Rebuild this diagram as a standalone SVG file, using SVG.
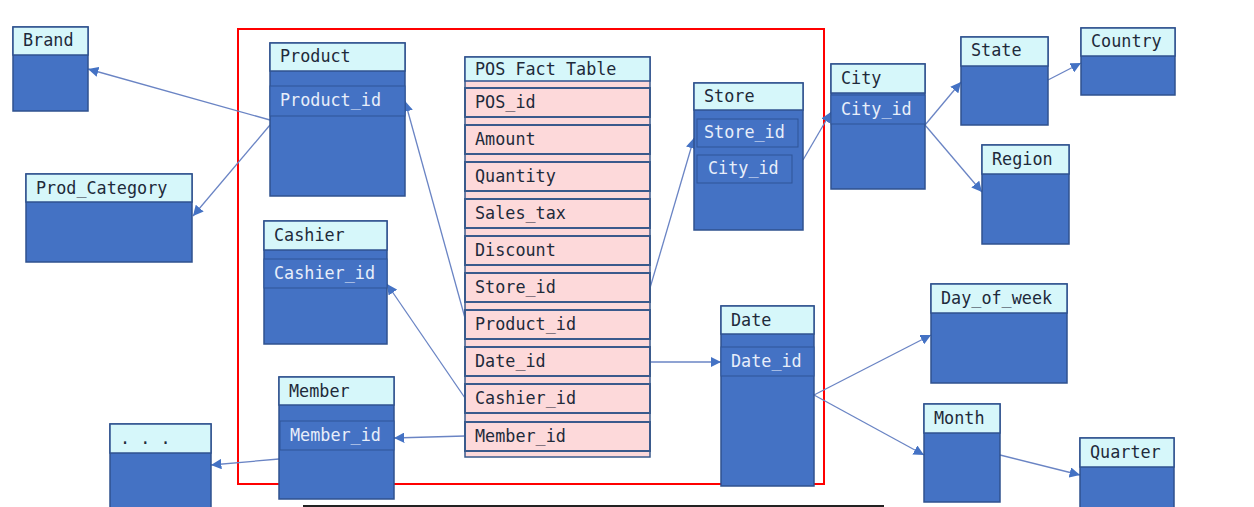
<svg xmlns="http://www.w3.org/2000/svg" width="1254" height="507" viewBox="0 0 1254 507">
<style>
.b{fill:#4472c4;stroke:#2f528f;stroke-width:1.5}
.h{fill:#d6f7fa;stroke:#2f528f;stroke-width:1.5}
.r{fill:#4472c4;stroke:#2f5597;stroke-width:1}
.p{fill:#fdd9da;stroke:#3a5a8c;stroke-width:1.5}
.pb{fill:#fdd9da;stroke:#3a5a8c;stroke-width:2}
text{font-family:"DejaVu Sans Mono","Liberation Mono",monospace;font-size:16.8px}
.t{fill:#1e2a3a}.w{fill:#e8eefa}
.c{stroke:#6a84c4;stroke-width:1.3;fill:none;marker-end:url(#a)}
</style>
<defs><marker id="a" viewBox="0 0 10 10" refX="10" refY="5" markerWidth="8" markerHeight="8" orient="auto"><path d="M0,0L10,5L0,10z" fill="#4472c4"/></marker></defs>
<rect width="1254" height="507" fill="#fff"/>
<rect x="238" y="29" width="586" height="455" fill="none" stroke="#ff0000" stroke-width="2"/>
<line x1="303" y1="506" x2="884" y2="506" stroke="#222" stroke-width="2"/>
<g id="connectors">
<path class="c" d="M270,120L88,69"/>
<path class="c" d="M270,125L193,216"/>
<path class="c" d="M465,318L405,101"/>
<path class="c" d="M465,398L387,284"/>
<path class="c" d="M465,436L394,438"/>
<path class="c" d="M279,459L211,465"/>
<path class="c" d="M650,288L694,138"/>
<path class="c" d="M803,160L831,112"/>
<path class="c" d="M925,125L961,82"/>
<path class="c" d="M925,125L982,192"/>
<path class="c" d="M1048,80L1081,63"/>
<path class="c" d="M650,362L721,362"/>
<path class="c" d="M814,395L931,335"/>
<path class="c" d="M814,395L924,455"/>
<path class="c" d="M1000,455L1080,475"/>
</g>
<g id="brand"><rect class="b" x="13" y="27" width="75" height="84"/><rect class="h" x="13" y="27" width="75" height="28"/><text class="t" x="23" y="46">Brand</text></g>
<g id="prodcat"><rect class="b" x="26" y="174" width="166" height="88"/><rect class="h" x="26" y="174" width="166" height="28"/><text class="t" x="36" y="194">Prod_Category</text></g>
<g id="product"><rect class="b" x="270" y="43" width="135" height="153"/><rect class="h" x="270" y="43" width="135" height="28"/><text class="t" x="280" y="62">Product</text><rect class="r" x="270" y="86" width="135" height="30"/><text class="w" x="280" y="106">Product_id</text></g>
<g id="cashier"><rect class="b" x="264" y="221" width="123" height="123"/><rect class="h" x="264" y="221" width="123" height="29"/><text class="t" x="274" y="241">Cashier</text><rect class="r" x="264" y="259" width="123" height="29"/><text class="w" x="274" y="279">Cashier_id</text></g>
<g id="member"><rect class="b" x="279" y="377" width="115" height="122"/><rect class="h" x="279" y="377" width="115" height="28"/><text class="t" x="289" y="397">Member</text><rect class="r" x="280" y="421" width="114" height="29"/><text class="w" x="290" y="441">Member_id</text></g>
<g id="etc"><rect class="b" x="110" y="424" width="101" height="85"/><rect class="h" x="110" y="424" width="101" height="29"/><text class="t" x="120" y="444">. . .</text></g>
<g id="pos"><rect class="p" x="465" y="57" width="185" height="400"/><rect class="h" x="465" y="57" width="185" height="24"/><text class="t" x="475" y="75">POS Fact Table</text>
<rect class="pb" x="465" y="88" width="185" height="29"/><text class="t" x="475" y="108">POS_id</text>
<rect class="pb" x="465" y="125" width="185" height="29"/><text class="t" x="475" y="145">Amount</text>
<rect class="pb" x="465" y="162" width="185" height="29"/><text class="t" x="475" y="182">Quantity</text>
<rect class="pb" x="465" y="199" width="185" height="29"/><text class="t" x="475" y="219">Sales_tax</text>
<rect class="pb" x="465" y="236" width="185" height="29"/><text class="t" x="475" y="256">Discount</text>
<rect class="pb" x="465" y="273" width="185" height="29"/><text class="t" x="475" y="293">Store_id</text>
<rect class="pb" x="465" y="310" width="185" height="29"/><text class="t" x="475" y="330">Product_id</text>
<rect class="pb" x="465" y="347" width="185" height="29"/><text class="t" x="475" y="367">Date_id</text>
<rect class="pb" x="465" y="384" width="185" height="29"/><text class="t" x="475" y="404">Cashier_id</text>
<rect class="pb" x="465" y="422" width="185" height="29"/><text class="t" x="475" y="442">Member_id</text></g>
<g id="store"><rect class="b" x="694" y="83" width="109" height="147"/><rect class="h" x="694" y="83" width="109" height="27"/><text class="t" x="704" y="102">Store</text><rect class="r" x="697" y="119" width="101" height="28"/><text class="w" x="704" y="138">Store_id</text><rect class="r" x="697" y="155" width="95" height="28"/><text class="w" x="708" y="174">City_id</text></g>
<g id="city"><rect class="b" x="831" y="64" width="94" height="125"/><rect class="h" x="831" y="64" width="94" height="29"/><text class="t" x="841" y="84">City</text><rect class="r" x="831" y="95" width="94" height="29"/><text class="w" x="841" y="115">City_id</text></g>
<g id="state"><rect class="b" x="961" y="37" width="87" height="88"/><rect class="h" x="961" y="37" width="87" height="29"/><text class="t" x="971" y="56">State</text></g>
<g id="country"><rect class="b" x="1081" y="28" width="94" height="67"/><rect class="h" x="1081" y="28" width="94" height="28"/><text class="t" x="1091" y="47">Country</text></g>
<g id="region"><rect class="b" x="982" y="145" width="87" height="99"/><rect class="h" x="982" y="145" width="87" height="29"/><text class="t" x="992" y="165">Region</text></g>
<g id="date"><rect class="b" x="721" y="306" width="93" height="180"/><rect class="h" x="721" y="306" width="93" height="28"/><text class="t" x="731" y="326">Date</text><rect class="r" x="721" y="347" width="93" height="29"/><text class="w" x="731" y="367">Date_id</text></g>
<g id="dow"><rect class="b" x="931" y="284" width="136" height="99"/><rect class="h" x="931" y="284" width="136" height="29"/><text class="t" x="941" y="304">Day_of_week</text></g>
<g id="month"><rect class="b" x="924" y="404" width="76" height="98"/><rect class="h" x="924" y="404" width="76" height="29"/><text class="t" x="934" y="424">Month</text></g>
<g id="quarter"><rect class="b" x="1080" y="438" width="94" height="71"/><rect class="h" x="1080" y="438" width="94" height="29"/><text class="t" x="1090" y="458">Quarter</text></g>
</svg>
